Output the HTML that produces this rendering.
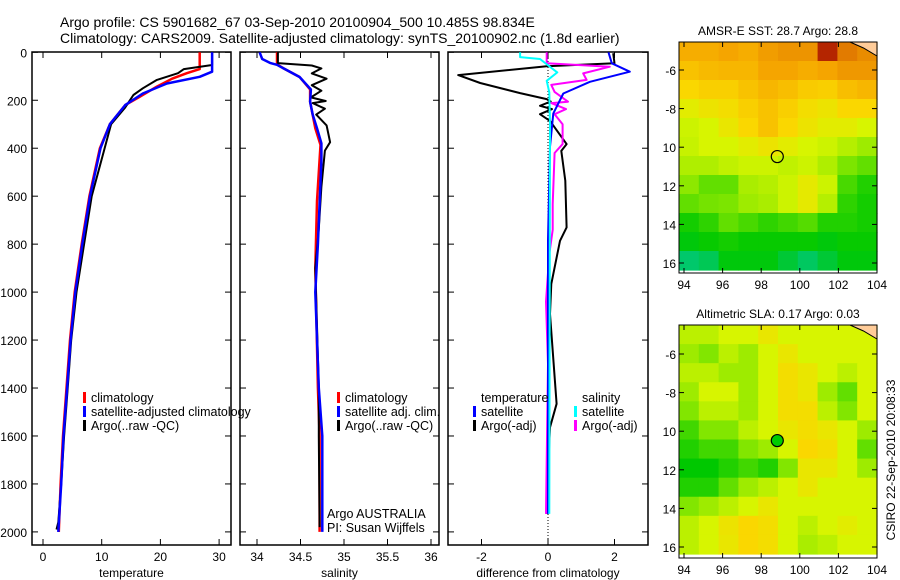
<!DOCTYPE html>
<html><head><meta charset="utf-8"><style>
html,body{margin:0;padding:0;background:#fff}
svg{display:block;font-family:"Liberation Sans",sans-serif}
</style></head><body>
<svg id="s" width="900" height="580" viewBox="0 0 900 580">
<text x="60" y="27" font-size="14">Argo profile: CS 5901682_67 03-Sep-2010 20100904_500 10.485S 98.834E</text>
<text x="60" y="43" font-size="14">Climatology: CARS2009. Satellite-adjusted climatology: synTS_20100902.nc (1.8d earlier)</text>
<text transform="translate(895,460) rotate(-90)" text-anchor="middle" font-size="12">CSIRO 22-Sep-2010 20:08:33</text>
</svg>
<script>
// ---- data ----
const depthTicks=[0,200,400,600,800,1000,1200,1400,1600,1800,2000];
const tempTicks=[0,10,20,30];
const salTicks=[34,34.5,35,35.5,36];
const salTickLabels=["34","34.5","35","35.5","36"];
const diffTicks=[-2,0,2];
const tClimD=[0,70,87,110,143,185,220,300,400,600,800,1000,1200,1400,1600,1800,2000];
const tClimV=[26.7,26.7,24.5,22,19.4,16.5,14,11.4,9.7,7.9,6.6,5.4,4.6,4.0,3.4,3.0,2.7];
const tSatD=[0,81,102,130,172,220,300,400,600,800,1000,1200,1400,1600,1800,2000];
const tSatV=[28.8,28.8,26.7,21.1,17,14,11.4,9.8,8.0,6.7,5.5,4.7,4.1,3.5,3.1,2.6];
const tArgoD=[0,53,70,87,115,150,178,230,300,410,600,800,1000,1200,1400,1600,1800,1960,1990];
const tArgoV=[28.8,28.8,24,23,19.4,17,15.4,14,11.6,10.4,8.3,7.0,5.7,4.8,4.2,3.6,3.1,2.6,2.3];
const sClimD=[0,50,66,103,155,206,317,386,620,900,1400,1600,2000];
const sClimV=[34.23,34.23,34.30,34.49,34.61,34.61,34.67,34.73,34.69,34.67,34.70,34.72,34.72];
const sSatD=[0,28,44,52,66,103,155,206,260,317,380,450,800,1000,1400,1600,2000];
const sSatV=[34.03,34.06,34.15,34.23,34.30,34.49,34.62,34.61,34.64,34.69,34.74,34.74,34.70,34.67,34.71,34.75,34.75];
const sArgoD=[0,45,55,67,88,110,137,160,188,203,212,235,260,305,375,410,560,735,900,1400,1600,1980];
const sArgoV=[34.24,34.24,34.63,34.74,34.63,34.80,34.63,34.74,34.62,34.79,34.64,34.78,34.68,34.80,34.84,34.78,34.74,34.71,34.67,34.71,34.71,34.72];
const dTArgoD=[4,46,58,95,128,170,195,205,223,237,258,286,383,411,536,730,786,966,1091,1466,1564,1744,1925];
const dTArgoV=[1.96,2.0,-0.04,-2.7,-2.04,-0.84,-0.04,0.08,-0.24,0.12,-0.24,0.06,0.56,0.4,0.52,0.56,0.36,0.1,0.06,0.26,0.06,0,-0.04];
const dTSatD=[0,46,81,123,172,255,394,783,1925];
const dTSatV=[1.82,1.92,2.46,1.26,0.46,0.16,0.06,0.0,0.0];
const dSArgoD=[0,46,60,88,115,136,165,206,212,237,258,300,383,420,633,740,841,1040,1300,1925];
const dSArgoV=[-0.04,-0.04,1.86,1.06,1.16,0.1,0.2,0.6,0.1,0.54,0.2,0.44,0.44,0.2,0.14,0.14,0.04,-0.06,0,-0.06];
const dSSatD=[0,20,28,63,84,119,167,300,1925];
const dSSatV=[-0.84,-0.84,-0.24,0.08,0.28,-0.04,0.04,0.06,0.04];
const lonTicks=[94,96,98,100,102,104];
const latTicks=[-6,-8,-10,-12,-14,-16];
const latTickLabels=["-6","-8","10","12","14","16"];
const sstGrid=[
[0.7,0.7,0.72,0.7,0.74,0.76,0.76,0.95,0.82,0.78],
[0.65,0.67,0.68,0.68,0.72,0.72,0.7,0.72,0.75,0.75],
[0.6,0.62,0.62,0.65,0.68,0.66,0.63,0.62,0.66,0.68],
[0.53,0.56,0.58,0.62,0.65,0.62,0.58,0.56,0.6,0.6],
[0.48,0.5,0.55,0.6,0.65,0.6,0.56,0.53,0.53,0.5],
[0.47,0.5,0.5,0.53,0.56,0.53,0.5,0.48,0.44,0.4],
[0.43,0.43,0.46,0.48,0.48,0.46,0.48,0.43,0.34,0.3],
[0.37,0.3,0.3,0.42,0.44,0.48,0.54,0.48,0.26,0.2],
[0.3,0.33,0.34,0.4,0.42,0.48,0.54,0.44,0.22,0.18],
[0.18,0.22,0.3,0.26,0.22,0.25,0.28,0.2,0.2,0.18],
[0.14,0.16,0.18,0.16,0.16,0.16,0.16,0.14,0.16,0.16],
[0.05,0.07,0.14,0.14,0.14,0.1,0.06,0.1,0.14,0.14]];
const slaGrid=[
[0.45,0.45,0.5,0.5,0.55,0.5,0.5,0.5,0.5,0.5],
[0.4,0.35,0.45,0.4,0.5,0.55,0.5,0.5,0.5,0.5],
[0.45,0.45,0.4,0.4,0.5,0.58,0.55,0.5,0.45,0.5],
[0.4,0.5,0.5,0.4,0.5,0.58,0.55,0.4,0.3,0.5],
[0.35,0.45,0.45,0.4,0.5,0.58,0.58,0.45,0.35,0.5],
[0.25,0.35,0.35,0.45,0.5,0.55,0.58,0.55,0.5,0.4],
[0.2,0.25,0.25,0.35,0.4,0.5,0.6,0.58,0.5,0.3],
[0.15,0.15,0.2,0.25,0.2,0.35,0.55,0.55,0.5,0.4],
[0.2,0.2,0.3,0.4,0.45,0.5,0.55,0.5,0.5,0.5],
[0.35,0.4,0.45,0.5,0.55,0.5,0.5,0.5,0.5,0.5],
[0.45,0.5,0.56,0.6,0.58,0.5,0.45,0.5,0.53,0.5],
[0.45,0.5,0.55,0.6,0.58,0.5,0.42,0.45,0.5,0.5]];
const argoLon=98.834, argoLat=-10.485;

// ---- drawing ----
const S=document.getElementById('s');
const NS='http://www.w3.org/2000/svg';
function mk(tag,a,parent){const e=document.createElementNS(NS,tag);for(const k in a)e.setAttribute(k,a[k]);(parent||S).appendChild(e);return e;}
const yD=d=>52.3+d*0.2398;
const P1={l:32,r:231,t:52,b:545}, P2={l:240,r:439,t:52,b:545}, P3={l:448,r:648,t:52,b:545};
const xT=v=>43+v*5.87, xS=v=>257+(v-34)*87, xDf=v=>548+v*33.25;

function frame(P,name){
  const r=mk('rect',{x:P.l,y:P.t,width:P.r-P.l,height:P.b-P.t,fill:'none',stroke:'#000','stroke-width':1.5});
  
  
  depthTicks.forEach(d=>{
    mk('line',{x1:P.l,x2:P.l+6,y1:yD(d),y2:yD(d),stroke:'#000'});
    mk('line',{x1:P.r,x2:P.r-6,y1:yD(d),y2:yD(d),stroke:'#000'});
  });
}
function xticks(P,ticks,labels,fx,title,tname){
  ticks.forEach((v,i)=>{
    const x=fx(v);
    mk('line',{x1:x,x2:x,y1:P.b,y2:P.b-6,stroke:'#000'});
    mk('line',{x1:x,x2:x,y1:P.t,y2:P.t+6,stroke:'#000'});
    const t=mk('text',{x:x,y:P.b+16,'text-anchor':'middle','font-size':12});
    t.textContent=labels[i];
    
    
  });
  const t=mk('text',{x:(P.l+P.r)/2,y:P.b+32,'text-anchor':'middle','font-size':12});
  t.textContent=title;
  
  
}
function line(D,V,fx,color,w,name){
  const pts=D.map((d,i)=>fx(V[i]).toFixed(1)+','+yD(d).toFixed(1)).join(' ');
  const p=mk('polyline',{points:pts,fill:'none',stroke:color,'stroke-width':w,'stroke-linejoin':'round'});
  
  
}
function legend(x,y,color,label,name){
  if(color) mk('rect',{x:x,y:y-10,width:3,height:11,fill:color});
  const t=mk('text',{x:x+8,y:y,'font-size':12.5});
  t.textContent=label;
  
  
}

frame(P1,'temperature-panel'); frame(P2,'salinity-panel'); frame(P3,'difference-panel');
depthTicks.forEach(d=>{
  const t=mk('text',{x:27,y:yD(d)+5,'text-anchor':'end','font-size':12});
  t.textContent=d;
  
  
});
xticks(P1,tempTicks,tempTicks.map(String),xT,'temperature','x-axis-title-temperature');
xticks(P2,salTicks,salTickLabels,xS,'salinity','x-axis-title-salinity');
xticks(P3,diffTicks,diffTicks.map(String),xDf,'difference from climatology','x-axis-title-difference');

line(tClimD,tClimV,xT,'#f00',2.5,'temp-climatology-line');
line(tArgoD,tArgoV,xT,'#000',2,'temp-argo-line');
line(tSatD,tSatV,xT,'#00f',2.5,'temp-satellite-line');
line(sClimD,sClimV,xS,'#f00',2.5,'sal-climatology-line');
line(sArgoD,sArgoV,xS,'#000',2,'sal-argo-line');
line(sSatD,sSatV,xS,'#00f',2.5,'sal-satellite-line');
const z=mk('line',{x1:xDf(0),x2:xDf(0),y1:P3.t,y2:P3.b,stroke:'#000','stroke-dasharray':'1,2'});


line(dTArgoD,dTArgoV,xDf,'#000',2,'diff-temp-argo-line');
line(dSArgoD,dSArgoV,xDf,'#f0f',2,'diff-sal-argo-line');
line(dTSatD,dTSatV,xDf,'#00f',2,'diff-temp-satellite-line');
line(dSSatD,dSSatV,xDf,'#0ff',2,'diff-sal-satellite-line');

legend(83,402,'#f00','climatology','legend-climatology');
legend(83,416,'#00f','satellite-adjusted climatology','legend-satellite-adjusted');
legend(83,430,'#000','Argo(..raw -QC)','legend-argo');
legend(337,402,'#f00','climatology','legend-sal-climatology');
legend(337,416,'#00f','satellite adj. clim.','legend-sal-satellite');
legend(337,430,'#000','Argo(..raw -QC)','legend-sal-argo');
legend(319,518,null,'Argo AUSTRALIA','argo-australia-label');
legend(319,532,null,'PI: Susan Wijffels','pi-label');
legend(473,402,null,'temperature','legend-temperature-heading');
legend(473,416,'#00f','satellite','legend-temp-satellite');
legend(473,430,'#000','Argo(-adj)','legend-temp-argo');
legend(574,402,null,'salinity','legend-salinity-heading');
legend(574,416,'#0ff','satellite','legend-sal-sat');
legend(574,430,'#f0f','Argo(-adj)','legend-sal-argo-adj');

// maps
const stops=[[0,[0,200,160]],[0.15,[0,200,0]],[0.35,[130,230,0]],[0.5,[215,245,0]],[0.6,[250,215,0]],[0.72,[245,165,0]],[0.85,[220,110,0]],[1,[160,0,0]]];
function cmap(v){for(let i=1;i<stops.length;i++){if(v<=stops[i][0]){const a=stops[i-1],b=stops[i],f=(v-a[0])/(b[0]-a[0]);return 'rgb('+a[1].map((c,k)=>Math.round(c+(b[1][k]-c)*f)).join(',')+')';}}return 'rgb(160,0,0)';}
function drawMap(M,grid,title,name,filled){
  const xL=v=>684+(v-94)*19.3, yL=v=>M.y6+(-6-v)*M.k;
  const rows=grid.length, cols=grid[0].length;
  const g=mk('g',{});
  
  
  const cw=(M.r-M.l)/cols, ch=(M.b-M.t)/rows;
  grid.forEach((row,i)=>row.forEach((v,j)=>{
    mk('rect',{x:M.l+j*cw,y:M.t+i*ch,width:cw+0.6,height:ch+0.6,fill:cmap(v)},g);
  }));
  mk('path',{d:`M${xL(102.6)},${M.t} L${xL(103.3)},${M.t+6} L${xL(104)},${M.t+14} L${M.r},${M.t} Z`,fill:'#fc9',stroke:'#000'},g);
  mk('rect',{x:M.l,y:M.t,width:M.r-M.l,height:M.ax-M.t,fill:'none',stroke:'#000'});
  lonTicks.forEach(v=>{
    mk('line',{x1:xL(v),x2:xL(v),y1:M.ax,y2:M.ax-5,stroke:'#000'});
    mk('line',{x1:xL(v),x2:xL(v),y1:M.t,y2:M.t+5,stroke:'#000'});
    const t=mk('text',{x:xL(v),y:M.ax+16,'text-anchor':'middle','font-size':12});t.textContent=v;
    
    
  });
  latTicks.forEach((v,i)=>{
    mk('line',{x1:M.l,x2:M.l+5,y1:yL(v),y2:yL(v),stroke:'#000'});
    mk('line',{x1:M.r,x2:M.r-5,y1:yL(v),y2:yL(v),stroke:'#000'});
    const t=mk('text',{x:M.l-3,y:yL(v)+5,'text-anchor':'end','font-size':12});t.textContent=latTickLabels[i];
    
    
  });
  const c=mk('circle',{cx:xL(argoLon),cy:yL(argoLat),r:6,fill:filled?'#0c0':'none',stroke:'#000','stroke-width':1.2});
  
  
  const t=mk('text',{x:(M.l+M.r)/2,y:M.t-7,'text-anchor':'middle','font-size':12});t.textContent=title;
  
  
}
drawMap({l:679,r:877,t:42,b:270,ax:273,y6:70,k:19.3},sstGrid,'AMSR-E SST: 28.7 Argo: 28.8','sst-map',false);
drawMap({l:679,r:877,t:325,b:554,ax:558,y6:354,k:19.3},slaGrid,'Altimetric SLA: 0.17 Argo: 0.03','sla-map',true);
</script>
</body></html>
